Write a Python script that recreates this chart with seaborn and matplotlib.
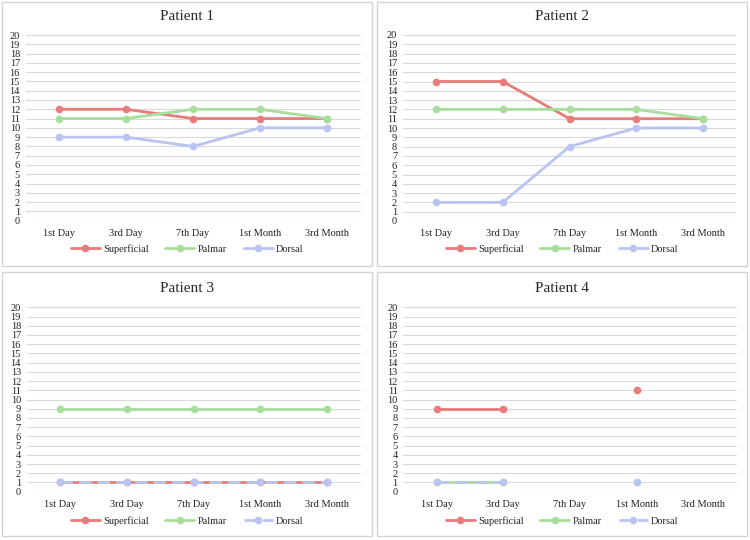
import numpy as np
import pandas as pd
import matplotlib
matplotlib.use("Agg")
import matplotlib.pyplot as plt
from matplotlib.lines import Line2D
from matplotlib.patches import Rectangle
import seaborn as sns

sns.set_style("white")
plt.rcParams['font.family'] = ['Liberation Serif', 'DejaVu Serif']

# Data
timepoints = ["1st Day", "3rd Day", "7th Day", "1st Month", "3rd Month"]
series_names = ["Superficial", "Palmar", "Dorsal"]

p1_superficial = [12, 12, 11, 11, 11]
p1_palmar = [11, 11, 12, 12, 11]
p1_dorsal = [9, 9, 8, 10, 10]

p2_superficial = [15, 15, 11, 11, 11]
p2_palmar = [12, 12, 12, 12, 11]
p2_dorsal = [2, 2, 8, 10, 10]

p3_superficial = [1, 1, 1, 1, 1]
p3_palmar = [9, 9, 9, 9, 9]
p3_dorsal = [1, 1, 1, 1, 1]

p4_superficial = [9, 9, np.nan, 11, np.nan]
p4_palmar = [1, 1, np.nan, np.nan, np.nan]
p4_dorsal = [1, 1, np.nan, 1, np.nan]

patients = {
    "Patient 1": [p1_superficial, p1_palmar, p1_dorsal],
    "Patient 2": [p2_superficial, p2_palmar, p2_dorsal],
    "Patient 3": [p3_superficial, p3_palmar, p3_dorsal],
    "Patient 4": [p4_superficial, p4_palmar, p4_dorsal],
}
dashed_dorsal = {"Patient 3", "Patient 4"}

colors = {"Superficial": "#E87B7B", "Palmar": "#A8DE9C", "Dorsal": "#B9C4F1"}
LW = 2.0
DASH = (0, (4.5, 2.2))

W, H = 750, 540
fig = plt.figure(figsize=(W / 100, H / 100), dpi=100)

# panel boxes (pixels): x0, y0, x1, y1 and axes (left, top(20), right, bottom(0))
panels = {
    "Patient 1": dict(box=(2, 2, 372, 266), ax=(25.5, 35, 360.5, 220.7), title_y=16, leg_y=249),
    "Patient 2": dict(box=(377, 2, 747, 266), ax=(402.6, 35, 736.4, 221), title_y=16, leg_y=249),
    "Patient 3": dict(box=(2, 272, 372, 536), ax=(26.5, 307.3, 360.5, 491.7), title_y=288, leg_y=521),
    "Patient 4": dict(box=(377, 272, 747, 536), ax=(403.3, 307.3, 736.7, 491.7), title_y=288, leg_y=521),
}


def segments(values):
    # split series at missing values so gaps are not bridged
    seg, out = 0, []
    for v in values:
        if np.isnan(v):
            seg += 1
        out.append(seg)
    return out


for name, vals in patients.items():
    p = panels[name]
    x0, y0, x1, y1 = p["box"]
    fig.patches.append(Rectangle((x0 / W, 1 - y1 / H), (x1 - x0) / W, (y1 - y0) / H,
                                 transform=fig.transFigure, fill=False,
                                 edgecolor="#D4D4D4", linewidth=1.0))
    l, t, r, b = p["ax"]
    ax = fig.add_axes([l / W, 1 - b / H, (r - l) / W, (b - t) / H])

    for sname, v in zip(series_names, vals):
        df = pd.DataFrame({"x": range(len(timepoints)), "y": v, "seg": segments(v)}).dropna()
        ls = DASH if (sname == "Dorsal" and name in dashed_dorsal) else "-"
        sns.lineplot(data=df, x="x", y="y", units="seg", estimator=None, sort=False,
                     color=colors[sname], linewidth=LW, marker="o", markersize=5.5,
                     markeredgewidth=0, linestyle=ls, ax=ax, legend=False)

    ax.set_xlim(-0.5, len(timepoints) - 0.5)
    ax.set_ylim(0, 20)
    ax.set_yticks(range(0, 21))
    ax.set_xticks(range(len(timepoints)))
    ax.set_xticklabels(timepoints)
    ax.set_xlabel("")
    ax.set_ylabel("")
    ax.grid(axis="y", color="#D9D9D9", linewidth=0.8)
    ax.set_axisbelow(True)
    for s in ax.spines.values():
        s.set_visible(False)
    ax.tick_params(axis="both", length=0, labelsize=7.5, colors="#222222")
    ax.tick_params(axis="y", pad=4)
    ax.tick_params(axis="x", pad=6)

    cx = (x0 + x1) / 2 / W
    fig.text(cx, 1 - p["title_y"] / H, name, ha="center", va="center", fontsize=11)

    handles = []
    for sname in series_names:
        ls = DASH if (sname == "Dorsal" and name in dashed_dorsal) else "-"
        handles.append(Line2D([], [], color=colors[sname], linewidth=LW, marker="o",
                              markersize=5.5, markeredgewidth=0, linestyle=ls))
    fig.legend(handles, series_names, loc="center", ncol=3, frameon=False,
               bbox_to_anchor=(cx, 1 - p["leg_y"] / H), fontsize=7.5,
               handlelength=2.8, columnspacing=1.6, handletextpad=0.3)

fig.savefig("out.png", dpi=100)
